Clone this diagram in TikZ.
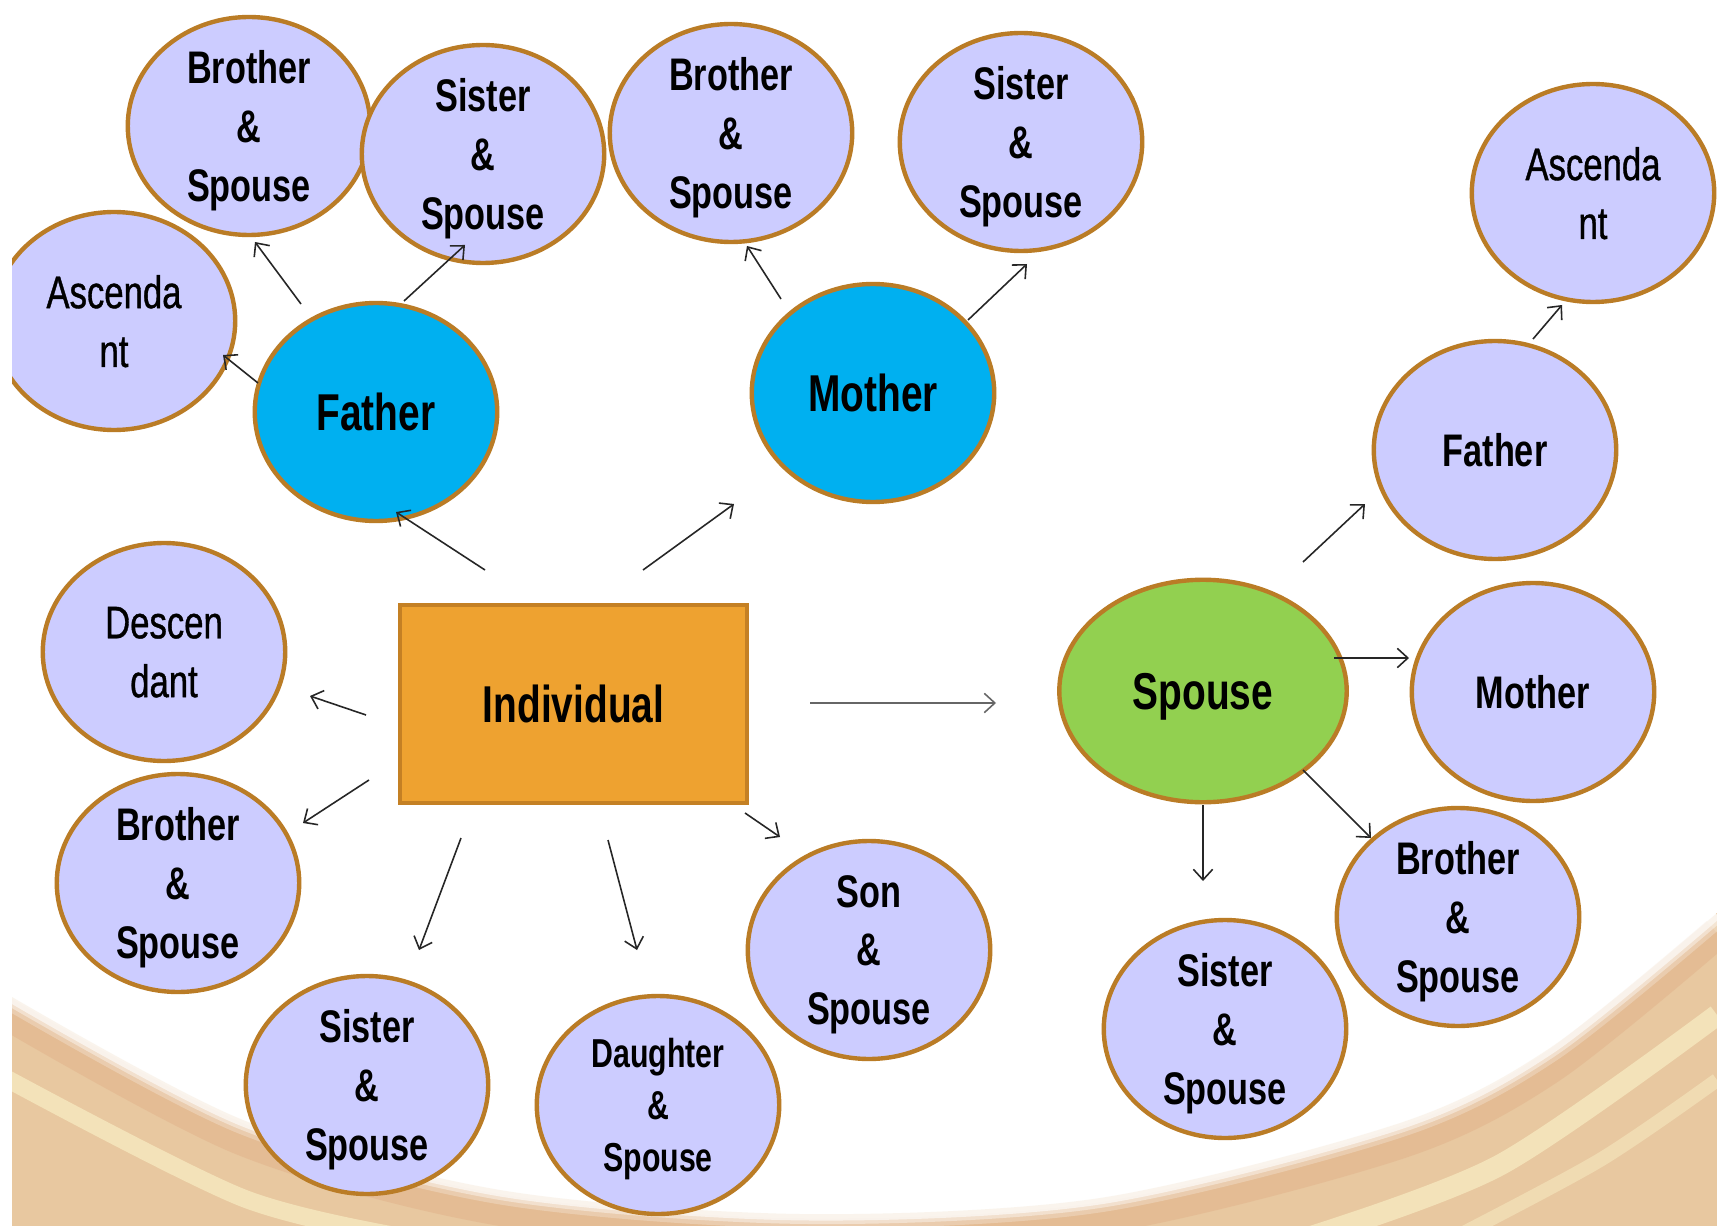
\documentclass[tikz,border=0pt]{standalone}
\usepackage{fontspec}
\setmainfont{Liberation Sans}[FakeStretch=0.75]
\newfontfamily\medfont{Liberation Sans}[FakeStretch=0.76, FakeBold=0.8]
\usetikzlibrary{shapes,arrows.meta,calc}
\definecolor{lilac}{RGB}{204,204,255}
\definecolor{rimbrown}{RGB}{186,124,38}
\definecolor{skyblue}{RGB}{0,176,240}
\definecolor{leafgreen}{RGB}{146,208,80}
\definecolor{boxorange}{RGB}{238,162,48}
\definecolor{boxrim}{RGB}{196,128,36}
\definecolor{sandtan}{RGB}{232,200,160}
\definecolor{sandpink}{RGB}{226,180,140}
\definecolor{sandlight}{RGB}{248,238,196}
\newcommand{\bigtxt}{\bfseries\fontsize{29.5}{36}\selectfont}
\newcommand{\midtxt}{\fontsize{26}{33.5}\selectfont}
\tikzstyle{kin} = [ellipse, draw=rimbrown, line width=2.5pt, fill=lilac, minimum width=4.85cm, minimum height=4.36cm, inner xsep=0pt, inner ysep=-15pt, align=center, text depth=0pt, font=\midtxt\bfseries]
\tikzstyle{kinplain} = [kin, font=\midtxt\medfont]
\tikzstyle{parent} = [kin, fill=skyblue, font=\bigtxt]
\tikzstyle{arrow} = [line width=0.9pt, color=black!85, -{Straight Barb[length=6pt,width=11pt]}]

\begin{document}
\begin{tikzpicture}[x=0.02cm, y=-0.02cm]
\useasboundingbox (0,0) rectangle (1717,1226);

% Background
\fill[white] (0,0) rectangle (1717,1226);
\fill[sandtan] (0,1226) -- plot[smooth] coordinates {(0,990) (243,1120) (500,1190) (800,1214) (1100,1198) (1400,1123) (1550,1048) (1717,913)} -- (1717,1226) -- cycle;
\draw[sandpink, line width=18pt, opacity=0.6] plot[smooth] coordinates {(0,1010) (243,1140) (500,1210) (800,1234) (1100,1218) (1400,1143) (1550,1068) (1717,933)};
\draw[sandlight, line width=10pt, opacity=0.7] plot[smooth] coordinates {(0,1075) (243,1198) (420,1240)};
\draw[sandlight, line width=12pt, opacity=0.7] plot[smooth] coordinates {(1300,1240) (1500,1165) (1717,1015)};
\draw[sandlight, line width=8pt, opacity=0.5] plot[smooth] coordinates {(1450,1240) (1600,1160) (1717,1080)};
\foreach \w/\o in {14/0.25, 9/0.4, 5/0.6} {
  \draw[white, line width=\w pt, opacity=\o] plot[smooth] coordinates {(0,992) (243,1122) (500,1192) (800,1216) (1100,1200) (1400,1125) (1550,1050) (1717,915)};
}

% Individual and spouse
\node[draw=boxrim, fill=boxorange, line width=2.5pt, minimum width=6.93cm, minimum height=3.95cm, font=\bigtxt] (ind) at (573.5,704) {Individual};
\node[parent, fill=leafgreen, minimum width=5.75cm, minimum height=4.45cm] (sp) at (1203,691) {Spouse};

% Parents
\node[parent] (fa) at (376,412) {Father};
\node[parent] (mo) at (873,393) {Mother};

% Father's side
\node[kin] (bro1) at (249,126) {Brother\\\&\\Spouse};
\node[kin] (sis1) at (483,154) {Sister\\\&\\Spouse};
\node[kinplain] (asc1) at (114,321) {Ascenda\\nt};

% Mother's side
\node[kin] (bro2) at (731,133) {Brother\\\&\\Spouse};
\node[kin] (sis2) at (1021,142) {Sister\\\&\\Spouse};

% Own line
\node[kinplain] (desc) at (164,652) {Descen\\dant};
\node[kin] (bro3) at (178,883) {Brother\\\&\\Spouse};
\node[kin] (sis3) at (367,1085) {Sister\\\&\\Spouse};
\node[kin, font=\bfseries\fontsize{23}{29.5}\selectfont] (dau) at (658,1105) {Daughter\\\&\\Spouse};
\node[kin] (son) at (869,950) {Son\\\&\\Spouse};

% Spouse's side
\node[kin] (fa2) at (1495,450) {Father};
\node[kinplain] (asc2) at (1593,193) {Ascenda\\nt};
\node[kin] (mo2) at (1533,692) {Mother};
\node[kin] (bro4) at (1458,917) {Brother\\\&\\Spouse};
\node[kin] (sis4) at (1225,1029) {Sister\\\&\\Spouse};

% Arrows from individual
\draw[arrow] ($(ind)+(-88.5,-134)$) -- ($(fa)+(20,100)$);
\draw[arrow] ($(ind)+(69.5,-134)$) -- ($(mo)+(-139,111)$);
\draw[arrow] ($(ind)+(-207.5,11)$) -- ($(desc)+(146,44)$);
\draw[arrow] ($(ind)+(-204.5,76)$) -- ($(bro3)+(125,-60)$);
\draw[arrow] ($(ind)+(-112.5,134)$) -- ($(sis3)+(52,-135)$);
\draw[arrow] ($(ind)+(34.5,136)$) -- ($(dau)+(-21,-155)$);
\draw[arrow] ($(ind)+(171.5,109)$) -- ($(son)+(-89,-113)$);
\draw[arrow, color=black!60] ($(ind)+(236.5,-1)$) -- ($(sp)+(-207,12)$);

% Arrows from parents
\draw[arrow] ($(fa)+(-75,-108)$) -- ($(bro1)+(6,116)$);
\draw[arrow] ($(fa)+(28,-111)$) -- ($(sis1)+(-18,91)$);
\draw[arrow] ($(fa)+(-118,-29)$) -- ($(asc1)+(109,34)$);
\draw[arrow] ($(mo)+(-92,-94)$) -- ($(bro2)+(16,113)$);
\draw[arrow] ($(mo)+(95,-73)$) -- ($(sis2)+(6,122)$);

% Arrows from spouse
\draw[arrow] ($(sp)+(100,-129)$) -- ($(fa2)+(-130,54)$);
\draw[arrow] ($(sp)+(131,-33)$) -- ($(mo2)+(-124,-34)$);
\draw[arrow] ($(sp)+(100,79)$) -- ($(bro4)+(-87,-79)$);
\draw[arrow] ($(sp)+(0,114)$) -- ($(sis4)+(-22,-148)$);
\draw[arrow] ($(fa2)+(38,-111)$) -- ($(asc2)+(-31,112)$);

% Left margin
\fill[white] (0,0) rectangle (12,1226);
\end{tikzpicture}
\end{document}
